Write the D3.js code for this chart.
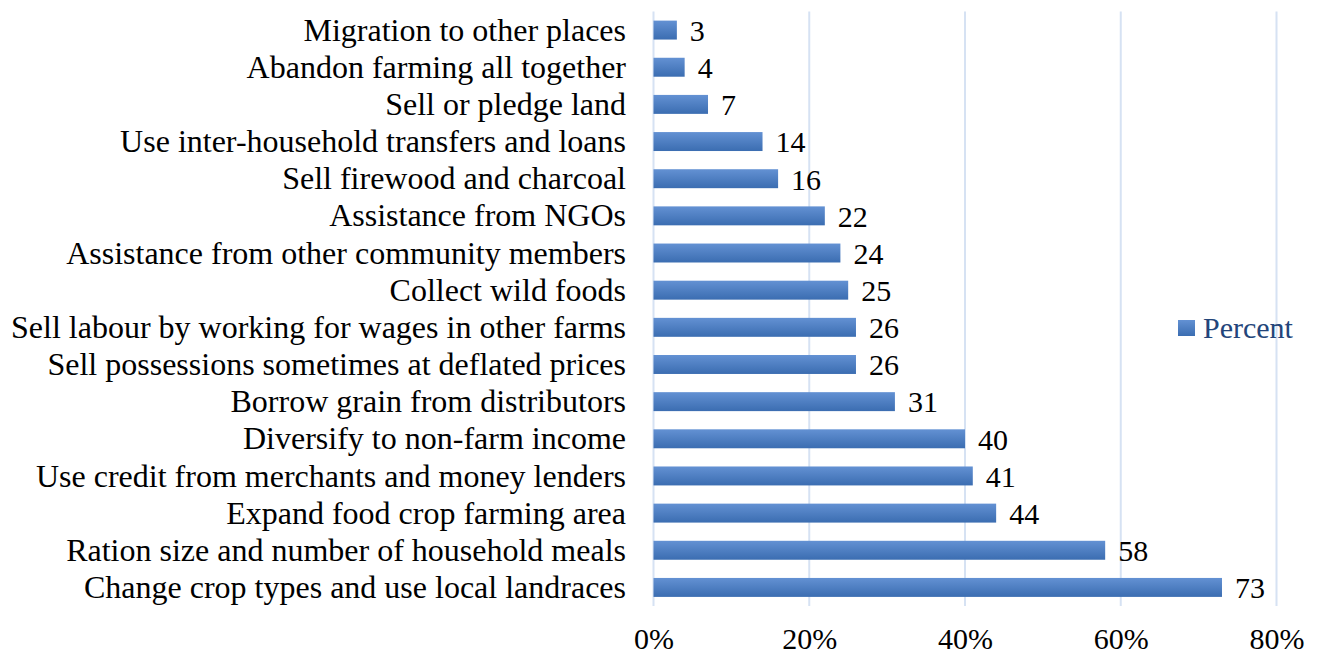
<!DOCTYPE html>
<html>
<head>
<meta charset="utf-8">
<script src="https://cdn.jsdelivr.net/npm/d3@7"></script>
<style>
  body { margin: 0; background: #fff; }
  svg { display: block; }
</style>
</head>
<body>
<div id="chart"></div>
<script>
const categories = [
  "Migration to other places",
  "Abandon farming all together",
  "Sell or pledge land",
  "Use inter-household transfers and loans",
  "Sell firewood and charcoal",
  "Assistance from NGOs",
  "Assistance from other community members",
  "Collect wild foods",
  "Sell labour by working for wages in other farms",
  "Sell possessions sometimes at deflated prices",
  "Borrow grain from distributors",
  "Diversify to non-farm income",
  "Use credit from merchants and money lenders",
  "Expand food crop farming area",
  "Ration size and number of household meals",
  "Change crop types and use local landraces"
];
const percentValues = [3, 4, 7, 14, 16, 22, 24, 25, 26, 26, 31, 40, 41, 44, 58, 73];
const tickValues = [0, 20, 40, 60, 80];
const seriesName = "Percent";

const w = 1318, h = 657;
const plotLeft = 653.5, plotRight = 1276.5, plotTop = 11.5, plotBottom = 606;
const serif = "'Liberation Serif', 'Times New Roman', serif";

const svg = d3.select("#chart").append("svg")
  .attr("width", w)
  .attr("height", h);

const defs = svg.append("defs");
const grad = defs.append("linearGradient")
  .attr("id", "barGrad")
  .attr("x1", 0).attr("y1", 0).attr("x2", 0).attr("y2", 1);
grad.append("stop").attr("offset", "0%").attr("stop-color", "#6391d3");
grad.append("stop").attr("offset", "100%").attr("stop-color", "#3b6db1");

const x = d3.scaleLinear().domain([0, 80]).range([plotLeft, plotRight]);
const y = d3.scaleBand().domain(categories).range([plotTop, plotBottom]).paddingInner(0.49).paddingOuter(0.245);

// gridlines
svg.append("g")
  .selectAll("line")
  .data(tickValues)
  .enter()
  .append("line")
  .attr("x1", d => x(d)).attr("x2", d => x(d))
  .attr("y1", plotTop).attr("y2", plotBottom)
  .attr("stroke", "#d6e2f3")
  .attr("stroke-width", 2);

// bars
svg.append("g")
  .selectAll("rect")
  .data(percentValues)
  .enter()
  .append("rect")
  .attr("x", x(0))
  .attr("y", (d, i) => y(categories[i]))
  .attr("width", d => x(d) - x(0))
  .attr("height", y.bandwidth())
  .attr("fill", "url(#barGrad)");

// value labels
svg.append("g")
  .selectAll("text")
  .data(percentValues)
  .enter()
  .append("text")
  .text(d => d)
  .attr("x", d => x(d) + 13)
  .attr("y", (d, i) => y(categories[i]) + y.bandwidth() / 2)
  .attr("dy", "0.36em")
  .attr("font-family", serif)
  .attr("font-size", "30px")
  .attr("fill", "#000");

// category labels
svg.append("g")
  .selectAll("text")
  .data(categories)
  .enter()
  .append("text")
  .text(d => d)
  .attr("x", 626)
  .attr("y", d => y(d) + y.bandwidth() / 2)
  .attr("dy", "0.33em")
  .attr("text-anchor", "end")
  .attr("font-family", serif)
  .attr("font-size", "32px")
  .attr("fill", "#000");

// x axis
const xAxis = d3.axisBottom(x)
  .tickValues(tickValues)
  .tickFormat(d => d + "%")
  .tickSize(0)
  .tickPadding(0);
const axisG = svg.append("g")
  .attr("transform", `translate(0, 628)`)
  .call(xAxis);
axisG.select(".domain").remove();
axisG.selectAll("text")
  .attr("font-family", serif)
  .attr("font-size", "30px")
  .attr("fill", "#000")
  .attr("dy", "0.71em");

// legend
const legend = svg.append("g");
legend.append("rect")
  .attr("x", 1178).attr("y", 320)
  .attr("width", 17).attr("height", 16)
  .attr("fill", "url(#barGrad)");
legend.append("text")
  .text(seriesName)
  .attr("x", 1203)
  .attr("y", 328)
  .attr("dy", "0.33em")
  .attr("font-family", serif)
  .attr("font-size", "30px")
  .attr("fill", "#23457a");
</script>
</body>
</html>
